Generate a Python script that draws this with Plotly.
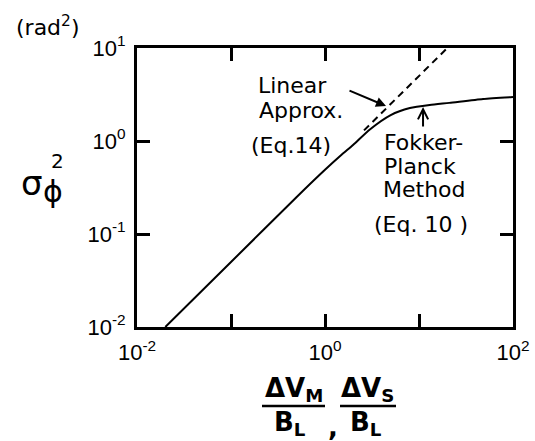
import plotly.graph_objects as go

# Phase variance from the Fokker-Planck solution (Eq. 10)
fp_x = [0.02, 0.1, 0.5, 1.0, 1.5, 2.0, 3.0, 5.0, 8.0, 13.0, 21.0, 48.0, 100.0]
fp_y = [0.01, 0.05, 0.25, 0.49, 0.71, 0.91, 1.33, 1.90, 2.26, 2.44, 2.57, 2.83, 2.97]

# Linear approximation (Eq. 14), shown where it departs from Eq. 10
lin_x = [2.6, 20.0]
lin_y = [1.3, 10.0]

x_tickvals = [0.01, 0.1, 1, 10, 100]
x_ticktext = ["10<sup>-2</sup>", "", "10<sup>0</sup>", "", "10<sup>2</sup>"]
y_tickvals = [0.01, 0.1, 1, 10]
y_ticktext = ["10<sup>-2</sup>", "10<sup>-1</sup>", "10<sup>0</sup>", "10<sup>1</sup>"]

W, H = 535, 441
ML, MR, MT, MB = 137, 22, 48, 114
PW, PH = W - ML - MR, H - MT - MB

FONT = "DejaVu Sans"
TICKFONT = "Liberation Sans"


def px(x):
    return (x - ML) / PW


def py(y):
    return (H - MB - y) / PH


fig = go.Figure()
fig.add_trace(go.Scatter(x=fp_x, y=fp_y, mode="lines", line=dict(color="black", width=2, shape="spline", smoothing=0.6),
                         showlegend=False, hoverinfo="skip"))
fig.add_trace(go.Scatter(x=lin_x, y=lin_y, mode="lines", line=dict(color="black", width=2, dash="7px,5px"),
                         showlegend=False, hoverinfo="skip"))

axis_common = dict(type="log", showgrid=False, zeroline=False, showline=True, linecolor="black", linewidth=3,
                   mirror="ticks", ticks="inside", ticklen=13, tickwidth=2.5, tickcolor="black",
                   tickfont=dict(family=TICKFONT, size=22, color="black"))

fig.update_xaxes(range=[-2, 2], tickvals=x_tickvals, ticktext=x_ticktext, ticklabelstandoff=4, **axis_common)
fig.update_yaxes(range=[-2, 1], tickvals=y_tickvals, ticktext=y_ticktext, ticklabelstandoff=4, **axis_common)

annotations = []


def text(s, x, y, size=22, xanchor="center", family=FONT, weight="normal"):
    annotations.append(dict(text=s, x=px(x), y=py(y), xref="paper", yref="paper", showarrow=False,
                            xanchor=xanchor, yanchor="middle",
                            font=dict(family=family, size=size, color="black", weight=weight)))


# curve labels
text("Linear", 292, 86)
text("Approx.", 301, 110)
text("(Eq.14)", 291, 145)
text("Fokker-", 382, 142, xanchor="left")
text("Planck", 382, 166, xanchor="left")
text("Method", 381, 189, xanchor="left")
text("(Eq. 10 )", 372, 224, xanchor="left")

# y-axis title
text("(rad<sup>2</sup>)", 47, 26, size=22)
text("σ", 32, 183, size=34)
text("ϕ", 53, 191, size=30)
text("2", 57, 161, size=20)

# x-axis title as two fractions
text("ΔV<sub>M</sub>", 294, 389, size=26, weight="bold")
text("B<sub>L</sub>", 290, 423, size=26, weight="bold")
text(",", 333, 427, size=26, weight="bold")
text("ΔV<sub>S</sub>", 367, 389, size=26, weight="bold")
text("B<sub>L</sub>", 366, 423, size=26, weight="bold")

# arrows to the curves
annotations.append(dict(x=0.649, y=0.376, xref="x", yref="y", ax=-38, ay=-16, text="", showarrow=True,
                        arrowhead=2, arrowsize=1, arrowwidth=2, arrowcolor="black"))
annotations.append(dict(x=1.043, y=0.366, xref="x", yref="y", ax=0, ay=21, text="", showarrow=True,
                        arrowhead=5, arrowsize=1, arrowwidth=2, arrowcolor="black"))

shapes = [
    dict(type="line", xref="paper", yref="paper", x0=px(262), x1=px(325), y0=py(406), y1=py(406),
         line=dict(color="black", width=2.5)),
    dict(type="line", xref="paper", yref="paper", x0=px(340), x1=px(396), y0=py(406), y1=py(406),
         line=dict(color="black", width=2.5)),
]

fig.update_layout(width=W, height=H, margin=dict(l=ML, r=MR, t=MT, b=MB, autoexpand=False),
                  paper_bgcolor="white", plot_bgcolor="white", annotations=annotations, shapes=shapes,
                  showlegend=False)

fig.write_html("out.html")
